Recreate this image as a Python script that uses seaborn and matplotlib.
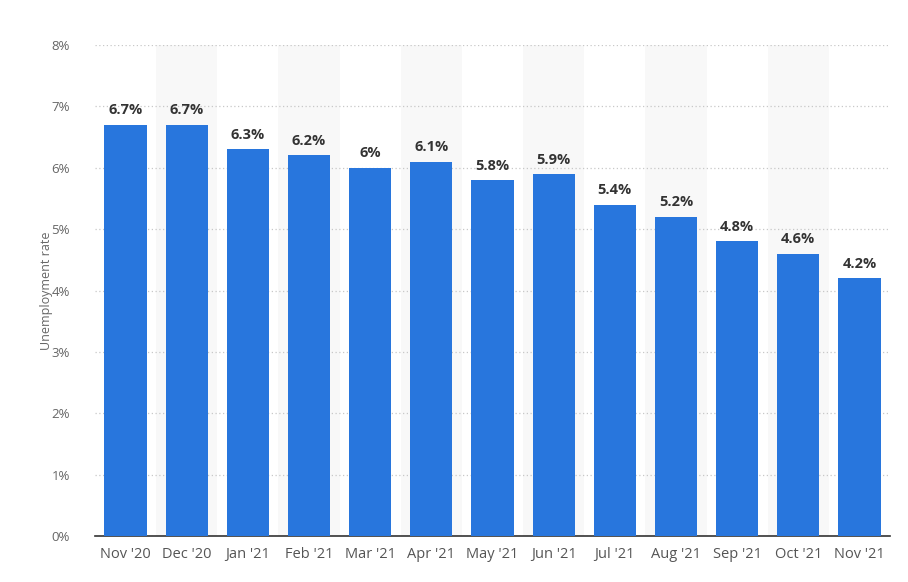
import matplotlib
matplotlib.use("Agg")
import matplotlib.pyplot as plt
import seaborn as sns
import pandas as pd
from matplotlib.ticker import FuncFormatter

months = ["Nov '20", "Dec '20", "Jan '21", "Feb '21", "Mar '21", "Apr '21", "May '21",
          "Jun '21", "Jul '21", "Aug '21", "Sep '21", "Oct '21", "Nov '21"]
rates = [6.7, 6.7, 6.3, 6.2, 6.0, 6.1, 5.8, 5.9, 5.4, 5.2, 4.8, 4.6, 4.2]
yticks = [0, 1, 2, 3, 4, 5, 6, 7, 8]

df = pd.DataFrame({"month": months, "rate": rates})

sns.set_theme(style="white")
plt.rcParams['font.family'] = ['Open Sans', 'DejaVu Sans']

fig = plt.figure(figsize=(9.08, 5.82), dpi=100)
ax = fig.add_axes([0.1046, 0.079, 0.8756, 0.8437])

for i in range(len(months)):
    if i % 2 == 1:
        ax.axvspan(i - 0.5, i + 0.5, color="#f8f8f8", zorder=0, lw=0)

sns.barplot(data=df, x="month", y="rate", color="#2876dd", width=0.69, ax=ax,
            saturation=1, zorder=3, edgecolor="none")

ax.set_ylim(0, 8)
ax.set_xlim(-0.5, len(months) - 0.5)
ax.set_yticks(yticks)
ax.yaxis.set_major_formatter(FuncFormatter(lambda v, p: f"{int(v)}%"))
ax.yaxis.grid(True, linestyle=(0, (1, 2)), color="#c8c8c8", linewidth=0.9, zorder=1)
ax.set_axisbelow(True)

for s in ["top", "right", "left"]:
    ax.spines[s].set_visible(False)
ax.spines["bottom"].set_color("#333333")
ax.spines["bottom"].set_linewidth(1.2)

ax.tick_params(axis="x", colors="#555555", labelsize=10.5, length=0, pad=8)
ax.tick_params(axis="y", colors="#666666", labelsize=9.5, length=0, pad=18)
ax.set_xlabel("")
ax.set_ylabel("Unemployment rate", color="#666666", fontsize=9, labelpad=-1)

for i, v in enumerate(rates):
    lbl = f"{v:g}%"
    ax.text(i, v + 0.12, lbl, ha="center", va="bottom", fontsize=10.5,
            fontweight="bold", color="#333333", zorder=4)

fig.savefig("out.png", dpi=100)
